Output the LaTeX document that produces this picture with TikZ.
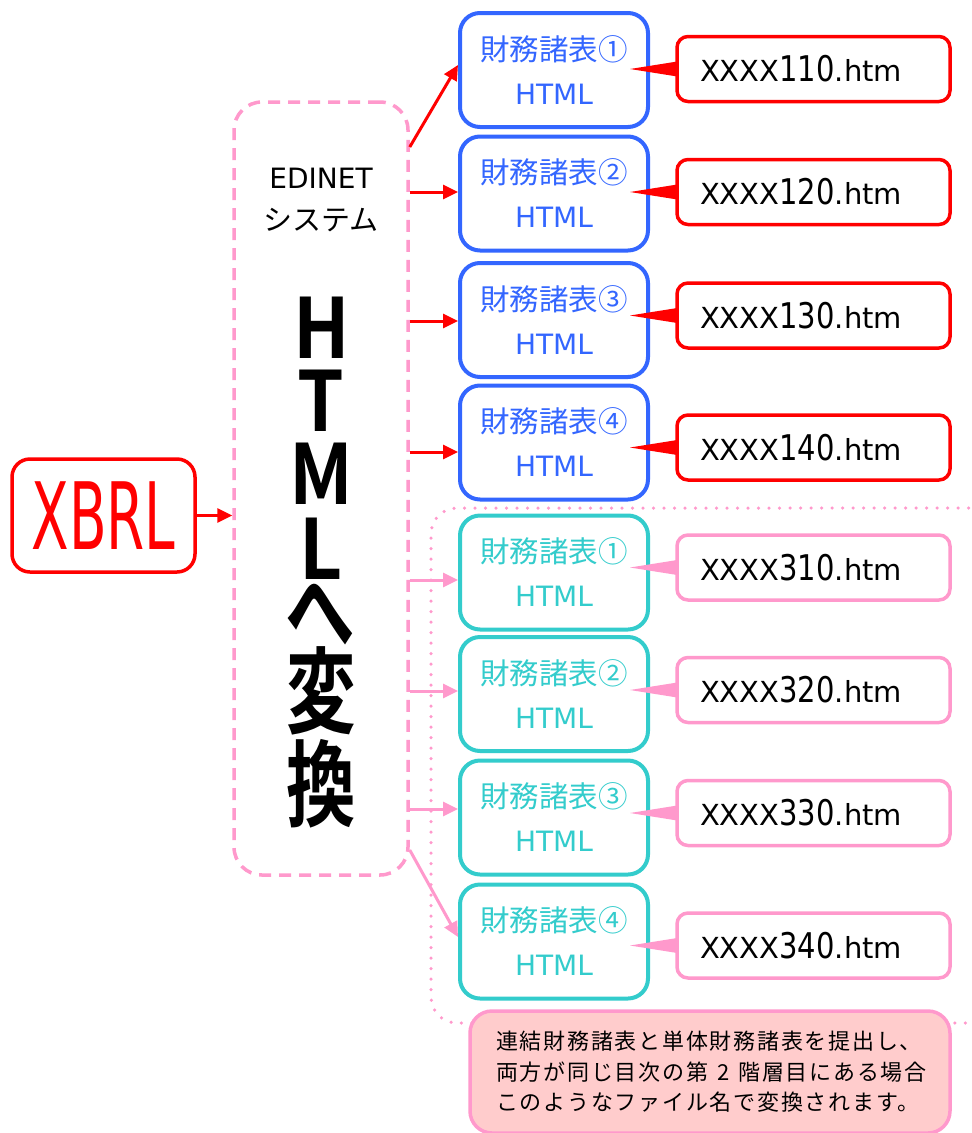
\documentclass[tikz,border=0pt]{standalone}
\usepackage{fontspec}
\setmainfont{DejaVu Sans}
\newfontfamily\jp{Noto Sans CJK JP}
\newfontfamily\jpsp{Noto Sans CJK JP}[LetterSpace=8]
\newfontfamily\jpLat{Noto Sans CJK JP Bold}[FakeStretch=0.9]
\newfontfamily\jpKan{Noto Sans CJK JP Bold}[FakeStretch=0.74]
\newfontfamily\xbrlf{DejaVu Sans}[FakeStretch=0.59]
\usetikzlibrary{arrows.meta,calc}
\definecolor{cred}{HTML}{FF0000}
\definecolor{cblue}{HTML}{3366FF}
\definecolor{cteal}{HTML}{33CCCC}
\definecolor{cpink}{HTML}{FF99CC}
\definecolor{cnote}{HTML}{FFCCCC}
\newcommand\Dg[1]{\scalebox{1}[1.22]{#1}}
\begin{document}
\begin{tikzpicture}[x=1pt,y=-1pt,
  sheet/.style={draw,fill=white,line width=4pt,rounded corners=20pt,minimum width=188pt,minimum height=114pt,align=center,inner sep=0pt,font=\fontsize{28}{44}\selectfont},
  fbox/.style={draw,fill=white,line width=3.5pt,rounded corners=11pt,minimum width=273pt,minimum height=65pt,text width=227pt,inner xsep=23pt,inner ysep=0pt,align=left,text=black,font=\fontsize{29}{29}\selectfont},
  redarr/.style={draw=cred,line width=3pt,-{Triangle[length=15pt,width=14pt]}},
  pinkarr/.style={draw=cpink,line width=3pt,-{Triangle[length=15pt,width=14pt]}},
  bigL/.style={inner sep=0pt,font=\jpLat\fontsize{83}{83}\selectfont},
  bigK/.style={inner sep=0pt,font=\jpKan\fontsize{94}{94}\selectfont},
  small/.style={inner sep=0pt,font=\fontsize{28}{28}\selectfont}
]
\useasboundingbox (0,0) rectangle (972,1133);
\clip (0,0) rectangle (972,1133);
\fill[white] (0,0) rectangle (972,1133);

% dotted group frame
\draw[cpink,line width=3.5pt,line cap=round,dash pattern=on 0pt off 10.5pt,rounded corners=26pt]
  (1000,508) -- (431,508) -- (431,1023) -- (1000,1023);

% XBRL
\node[draw=cred,line width=3.5pt,rounded corners=18pt,minimum width=183pt,minimum height=113pt,
  text=cred,font=\xbrlf\fontsize{93}{93}\selectfont] (xbrl) at (103.5,515.5) {XBRL};

% EDINET system
\node[draw=cpink,line width=3.5pt,dash pattern=on 12pt off 8pt,rounded corners=28pt,
  minimum width=174pt,minimum height=773pt] (sys) at (321,488.5) {};
\node[small] (edinet) at (321,178) {EDINET};
\node[small] (sysjp) at (321,220) {\jp\fontsize{29}{29}\selectfont システム};
\node[bigL] (c1) at (321.5,327.5) {H};
\node[bigL] (c2) at (321,401) {T};
\node[bigL] (c3) at (321,474) {M};
\node[bigL] (c4) at (321,549) {L};
\node[bigK] (c5) at (320.5,614) {へ};
\node[bigK] (c6) at (321.5,690.5) {変};
\node[bigK] (c7) at (321,783.5) {換};

% sheets
\foreach \i/\y/\n in {1/70/①,2/193.5/②,3/320/③,4/442.5/④}
  \node[sheet,draw=cblue,text=cblue] (b\i) at (554,\y) {{\jp\fontsize{29.5}{44}\selectfont 財務諸表\n}\\HTML};
\foreach \i/\y/\n in {5/572.5/①,6/694/②,7/817.5/③,8/941.5/④}
  \node[sheet,draw=cteal,text=cteal] (b\i) at (554,\y) {{\jp\fontsize{29.5}{44}\selectfont 財務諸表\n}\\HTML};

% file names
\foreach \i/\y/\t in {1/69/110,2/192/120,3/315.5/130,4/447.5/140}
  \node[fbox,draw=cred] (f\i) at (813.5,\y) {XXXX\Dg{\t}.htm};
\foreach \i/\y/\t in {5/567.5/310,6/690/320,7/813/330,8/945.5/340}
  \node[fbox,draw=cpink] (f\i) at (813.5,\y) {XXXX\Dg{\t}.htm};

% callout pointers
\foreach \i in {1,2,3,4}
  \fill[cred] ($(b\i.east |- f\i.west)+(-20,0)$) -- ($(f\i.west)+(2,-7.5)$) -- ($(f\i.west)+(2,7.5)$) -- cycle;
\foreach \i in {5,6,7,8}
  \fill[cpink] ($(b\i.east |- f\i.west)+(-20,0)$) -- ($(f\i.west)+(2,-7.5)$) -- ($(f\i.west)+(2,7.5)$) -- cycle;

% arrows
\draw[redarr] (xbrl.east) -- (sys.west |- xbrl.east);
\draw[redarr] (sys.east |- 0,147) -- (b1.west |- 0,65);
\draw[redarr] (sys.east |- 0,192) -- (b2.west |- 0,192);
\draw[redarr] (sys.east |- 0,321) -- (b3.west |- 0,321);
\draw[redarr] (sys.east |- 0,452) -- (b4.west |- 0,452);
\draw[pinkarr] (sys.east |- 0,580) -- (b5.west |- 0,580);
\draw[pinkarr] (sys.east |- 0,691) -- (b6.west |- 0,691);
\draw[pinkarr] (sys.east |- 0,809) -- (b7.west |- 0,809);
\draw[pinkarr] (sys.east |- 0,850) -- (b8.west |- 0,937);

% note
\node[draw=cpink,fill=cnote,line width=3.5pt,rounded corners=22pt,minimum width=480pt,minimum height=122pt,
  text width=434pt,inner xsep=23pt,align=left,font=\jpsp\fontsize{22}{30.5}\selectfont] (note) at (710,1072)
  {\mbox{\hspace*{3pt}連結財務諸表と単体財務諸表を提出し、}\\\mbox{\hspace*{3pt}両方が同じ目次の第\hspace{9pt}2\hspace{9pt}階層目にある場合}\\\mbox{\hspace*{3pt}このようなファイル名で変換されます。}};
\end{tikzpicture}
\end{document}
